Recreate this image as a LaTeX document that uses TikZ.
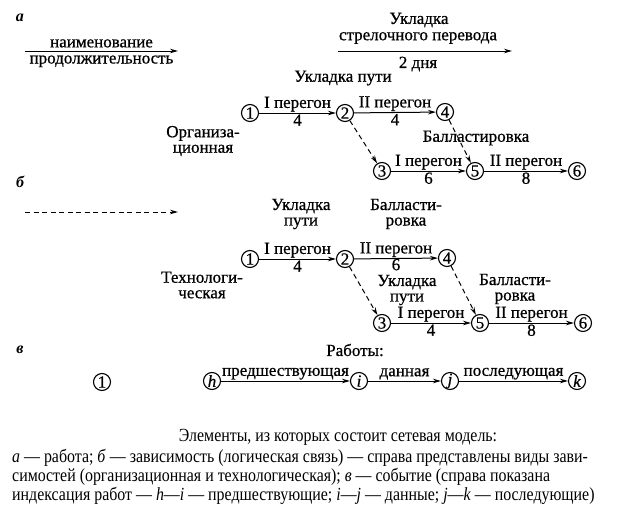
\documentclass[tikz,border=0pt]{standalone}
\usepackage{fontspec}
\setmainfont{Liberation Serif}
\newfontfamily\diafont[FakeBold=0.7]{Liberation Serif}
\newfontfamily\capfont[FakeStretch=0.86]{Liberation Serif}
\usetikzlibrary{arrows.meta, positioning}

\begin{document}
\begin{tikzpicture}[
  x=1pt, y=-1pt,
  every node/.style={font=\fontsize{17}{15.5}\diafont},
  ev/.style={circle, draw, line width=1.1pt, inner sep=0pt, minimum size=17pt},
  lbl/.style={align=center, inner sep=1pt},
  part/.style={font=\fontsize{16}{16}\selectfont\bfseries\itshape},
  arr/.style={-{Stealth[length=8pt,width=4.5pt]}, line width=1pt},
  dep/.style={arr, dash pattern=on 5pt off 3.5pt},
  captext/.style={font=\fontsize{18.5}{19}\capfont, inner sep=0pt}
]
  \useasboundingbox (0,0) rectangle (629,514);

  % a -- rabota
  \node[part] (pa) at (20,18) {а};
  \coordinate (a0) at (25,51);
  \coordinate (a1) at (178,51);
  \draw[arr] (a0) -- node[above, inner sep=1pt, yshift=2pt] {наименование}
                     node[below, inner sep=1pt, yshift=-3pt] {продолжительность} (a1);
  \node[lbl] (ukl) at (419,20) {Укладка};
  \node[lbl] (strel) at (418,38) {стрелочного перевода};
  \coordinate (s0) at (338,51);
  \coordinate (s1) at (512,51);
  \draw[arr] (s0) -- (s1);
  \node[lbl] (dni) at (418,64) {2 дня};

  % organizacionnaya
  \node[lbl] (uklA) at (343,78) {Укладка пути};
  \node[ev] (a1n) at (250,113) {1};
  \node[ev] (a2n) at (345,113) {2};
  \node[ev] (a4n) at (445,112) {4};
  \node[ev] (a3n) at (382,171) {3};
  \node[ev] (a5n) at (475,171) {5};
  \node[ev] (a6n) at (577,171) {6};
  \node[lbl] (orgA) at (203,141) {Организа-\\ционная};
  \node[lbl] (balA) at (476,138) {Балластировка};
  \draw[arr] (a1n) -- node[above, inner sep=1pt] {I перегон} node[below, inner sep=1pt] {4} (a2n);
  \draw[arr] (a2n) -- node[above, inner sep=1pt] {II перегон} node[below, inner sep=1pt] {4} (a4n);
  \draw[arr] (a3n) -- node[above, inner sep=1pt] {I перегон} node[below, inner sep=1pt] {6} (a5n);
  \draw[arr] (a5n) -- node[above, inner sep=1pt] {II перегон} node[below, inner sep=1pt] {8} (a6n);
  \draw[dep] (a2n) -- (a3n);
  \draw[dep] (a4n) -- (a5n);

  % b -- zavisimost
  \node[part] (pb) at (20,182) {б};
  \coordinate (b0) at (25,212);
  \coordinate (b1) at (178,212);
  \draw[dep] (b0) -- (b1);

  % tehnologicheskaya
  \node[lbl] (uklB) at (301,214) {Укладка\\пути};
  \node[lbl] (balB) at (406,214) {Балласти-\\ровка};
  \node[ev] (b1n) at (250,259) {1};
  \node[ev] (b2n) at (345,259) {2};
  \node[ev] (b4n) at (447,258) {4};
  \node[ev] (b3n) at (382,323) {3};
  \node[ev] (b5n) at (480,323) {5};
  \node[ev] (b6n) at (583,323) {6};
  \node[lbl] (tehB) at (202,285) {Технологи-\\ческая};
  \node[lbl] (uklC) at (407,290) {Укладка\\пути};
  \node[lbl] (balC) at (515,289) {Балласти-\\ровка};
  \draw[arr] (b1n) -- node[above, inner sep=1pt] {I перегон} node[below, inner sep=1pt] {4} (b2n);
  \draw[arr] (b2n) -- node[above, inner sep=1pt] {II перегон} node[below, inner sep=0pt] {6} (b4n);
  \draw[arr] (b3n) -- node[above, inner sep=1pt] {I перегон} node[below, inner sep=1pt] {4} (b5n);
  \draw[arr] (b5n) -- node[above, inner sep=1pt] {II перегон} node[below, inner sep=1pt] {8} (b6n);
  \draw[dep] (b2n) -- (b3n);
  \draw[dep] (b4n) -- (b5n);

  % v -- sobytie
  \node[part] (pv) at (20,350) {в};
  \node[lbl] (rab) at (355,350) {Работы:};
  \node[ev] (one) at (102,382) {1};
  \node[ev] (h) at (212,381) {\itshape h};
  \node[ev] (i) at (359,381) {\itshape i};
  \node[ev] (j) at (450,381) {\itshape j};
  \node[ev] (k) at (577,381) {\itshape k};
  \draw[arr] (h) -- node[above, inner sep=1pt] {предшествующая} (i);
  \draw[arr] (i) -- node[above, inner sep=1pt] {данная} (j);
  \draw[arr] (j) -- node[above, inner sep=1pt] {последующая} (k);

  % podpis
  \node[captext] (c1) at (338,437) {Элементы, из которых состоит сетевая модель:};
  \node[captext, anchor=west] (c2) at (12,458) {\textit{а} — работа; \textit{б} — зависимость (логическая связь) — справа представлены виды зави-};
  \node[captext, anchor=west] (c3) at (12,477) {симостей (организационная и технологическая); \textit{в} — событие (справа показана};
  \node[captext, anchor=west] (c4) at (12,496) {индексация работ — \textit{h}—\textit{i} — предшествующие; \textit{i}—\textit{j} — данные; \textit{j}—\textit{k} — последующие)};
\end{tikzpicture}
\end{document}
